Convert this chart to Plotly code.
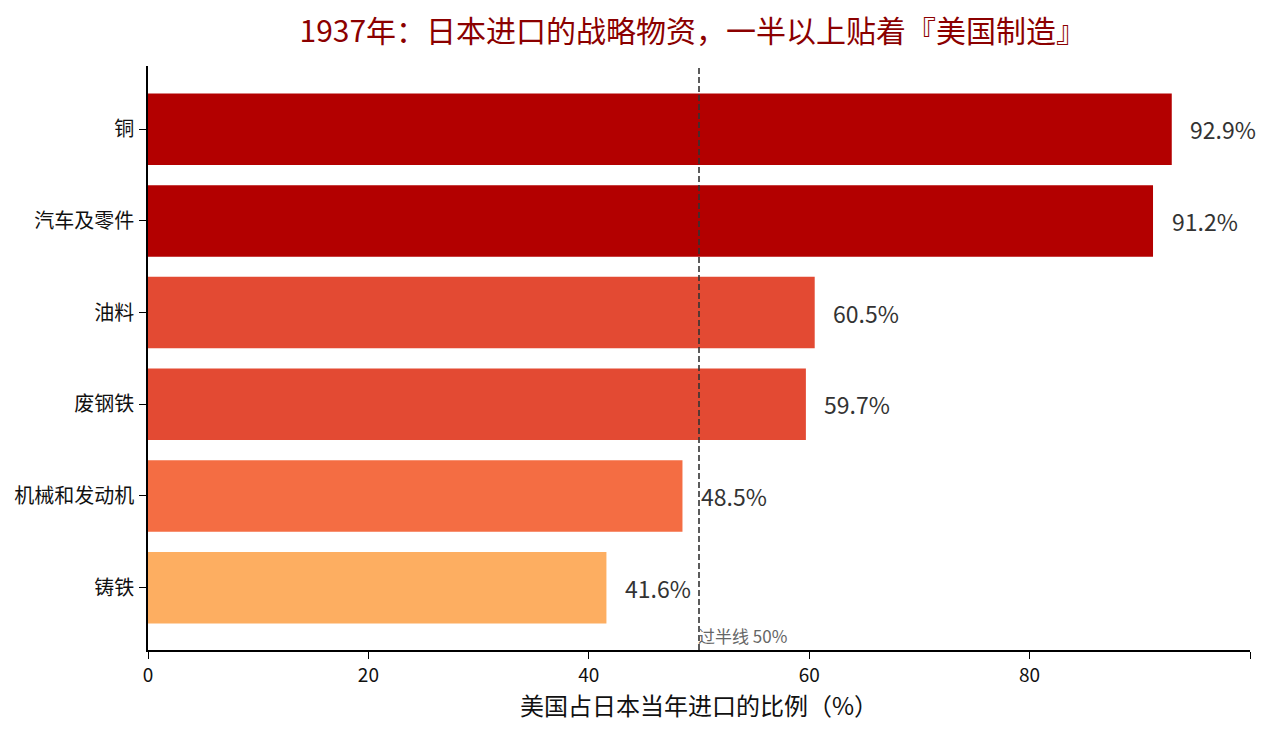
import plotly.graph_objects as go

# 数据
categories = ["铜", "汽车及零件", "油料", "废钢铁", "机械和发动机", "铸铁"]
values = [92.9, 91.2, 60.5, 59.7, 48.5, 41.6]
bar_colors = ["#b30000", "#b30000", "#e34a33", "#e34a33", "#f46d43", "#fdae61"]
x_ticks = [0, 20, 40, 60, 80, 100]
x_tick_text = ["0", "20", "40", "60", "80", ""]
half_line = 50

font_cjk = "Noto Sans CJK SC"

fig = go.Figure()
fig.add_trace(go.Bar(
    x=values, y=categories, orientation="h",
    marker=dict(color=bar_colors, line=dict(width=0)),
    width=0.78, showlegend=False, hoverinfo="x+y",
))

# 数值标签
for c, v in zip(categories, values):
    fig.add_annotation(x=v + 1.5, y=c, text=f"{v:.1f}%", showarrow=False,
                       xanchor="left", yanchor="middle",
                       font=dict(family=font_cjk, size=23, color="#333333"))

# 50% 过半线
fig.add_shape(type="line", x0=half_line, x1=half_line, y0=0, y1=1, yref="paper",
              line=dict(color="#333333", width=1.6, dash="6px,3px"))
fig.add_annotation(x=half_line, y=0, yref="paper", text="过半线 50%", showarrow=False,
                   xanchor="left", yanchor="bottom", xshift=-3, yshift=0,
                   font=dict(family=font_cjk, size=17, color="#666666"))

# 页面有 8px 边距，margin 相应扣掉
fig.update_layout(
    width=1280, height=733,
    margin=dict(l=140, r=38, t=58, b=91),
    plot_bgcolor="white", paper_bgcolor="white",
    font=dict(family=font_cjk, color="#111111"),
    title=dict(text="1937年：日本进口的战略物资，一半以上贴着『美国制造』",
               x=0.535, xanchor="center", y=0.968, yanchor="middle",
               font=dict(family=font_cjk, size=30, color="#8b0000")),
)
fig.update_xaxes(
    range=[0, 100], tickvals=x_ticks, ticktext=x_tick_text,
    showline=True, linecolor="black", linewidth=1.5, mirror=False,
    ticks="outside", ticklen=7, tickcolor="black", tickwidth=1.2,
    showgrid=False, zeroline=False, automargin=False,
    tickfont=dict(family=font_cjk, size=19, color="#111111"),
    title=dict(text="美国占日本当年进口的比例（%）", standoff=10,
               font=dict(family=font_cjk, size=24, color="#111111")),
)
fig.update_yaxes(
    categoryorder="array", categoryarray=categories,
    range=[5.68, -0.69],
    showline=True, linecolor="black", linewidth=1.5,
    ticks="outside", ticklen=7, tickcolor="black", tickwidth=1.2,
    ticklabelstandoff=1, automargin=False,
    showgrid=False, zeroline=False,
    tickfont=dict(family=font_cjk, size=20, color="#111111"),
)

fig.write_html("out.html")
